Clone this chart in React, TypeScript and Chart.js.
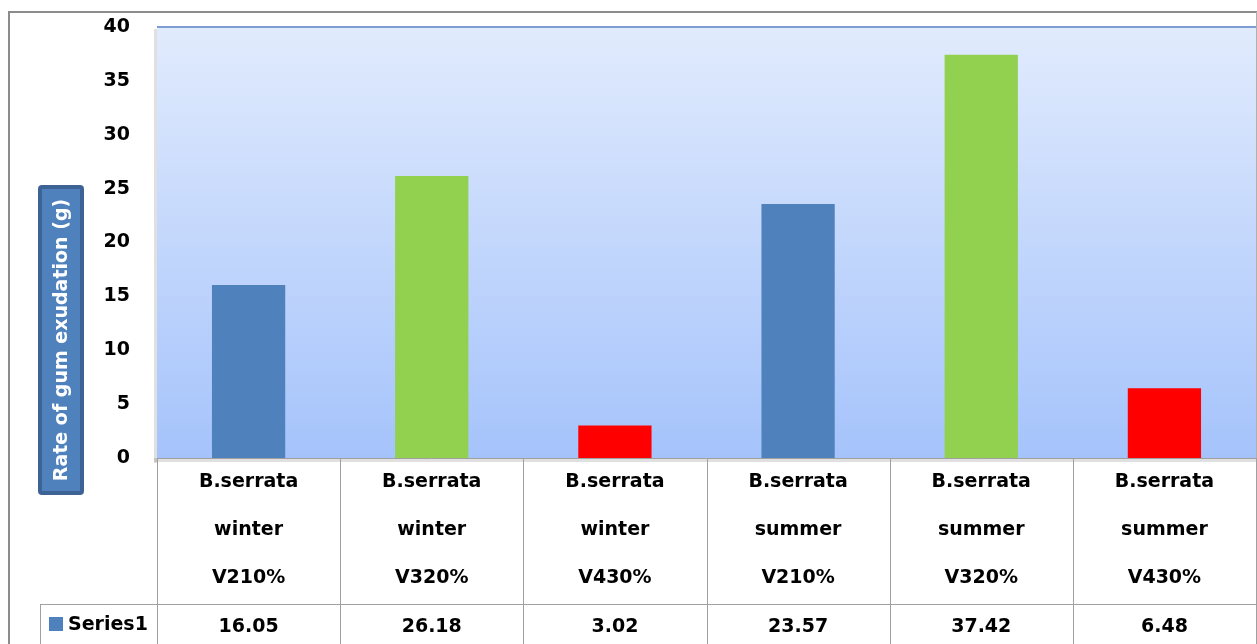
import React, { useEffect, useRef } from "react";
import { Chart, registerables } from "chart.js";

Chart.register(...registerables);

const categories: string[][] = [
  ["B.serrata", "winter", "V210%"],
  ["B.serrata", "winter", "V320%"],
  ["B.serrata", "winter", "V430%"],
  ["B.serrata", "summer", "V210%"],
  ["B.serrata", "summer", "V320%"],
  ["B.serrata", "summer", "V430%"],
];
const seriesName = "Series1";
const values: number[] = [16.05, 26.18, 3.02, 23.57, 37.42, 6.48];
const valueLabels: string[] = ["16.05", "26.18", "3.02", "23.57", "37.42", "6.48"];
const barColors: string[] = ["#4F81BD", "#92D050", "#FF0000", "#4F81BD", "#92D050", "#FF0000"];
const yTitle = "Rate of gum exudation (g)";
const yMin = 0;
const yMax = 40;
const yStep = 5;

const FONT = "'DejaVu Sans', 'Open Sans', sans-serif";

const decorPlugin = {
  id: "decor",
  beforeDraw(chart: any) {
    const { ctx, chartArea } = chart;
    const { left, right, top, bottom } = chartArea;
    ctx.save();
    ctx.fillStyle = "#FFFFFF";
    ctx.fillRect(0, 0, chart.width, chart.height);
    // outer frame
    ctx.strokeStyle = "#8C8C8C";
    ctx.lineWidth = 2;
    ctx.beginPath();
    ctx.moveTo(9, chart.height + 2);
    ctx.lineTo(9, 12);
    ctx.lineTo(right + 1, 12);
    ctx.stroke();
    ctx.strokeStyle = "#B0B0B0";
    ctx.lineWidth = 1;
    ctx.beginPath();
    ctx.moveTo(right + 0.5, 12);
    ctx.lineTo(right + 0.5, chart.height);
    ctx.stroke();
    // plot area shadow
    ctx.fillStyle = "rgba(0,0,0,0.12)";
    ctx.fillRect(left - 3, top + 2, 3, bottom - top + 3);
    ctx.fillRect(left - 3, bottom, right - left + 3, 4);
    // plot gradient
    const g = ctx.createLinearGradient(0, top, 0, bottom);
    g.addColorStop(0, "#E1EBFD");
    g.addColorStop(1, "#A5C3FB");
    ctx.fillStyle = g;
    ctx.fillRect(left, top, right - left, bottom - top);
    ctx.strokeStyle = "#7E9ED2";
    ctx.lineWidth = 2;
    ctx.beginPath();
    ctx.moveTo(left, top);
    ctx.lineTo(right, top);
    ctx.stroke();
    ctx.restore();
  },
  afterDraw(chart: any) {
    const { ctx, chartArea } = chart;
    const { left, right, bottom } = chartArea;
    const xs = chart.scales.x;
    const n = categories.length;
    const step = (right - left) / n;
    const labelBottom = 604;
    const tableBottom = chart.height;
    ctx.save();
    ctx.strokeStyle = "#A0A0A0";
    ctx.lineWidth = 1;
    ctx.beginPath();
    ctx.moveTo(left, bottom + 0.5);
    ctx.lineTo(right, bottom + 0.5);
    ctx.stroke();
    for (let i = 0; i <= n; i++) {
      const x = Math.round(xs.getPixelForValue(i) - step / 2) + 0.5;
      ctx.beginPath();
      ctx.moveTo(x, bottom);
      ctx.lineTo(x, tableBottom);
      ctx.stroke();
    }
    ctx.beginPath();
    ctx.moveTo(40, labelBottom + 0.5);
    ctx.lineTo(right, labelBottom + 0.5);
    ctx.stroke();
    ctx.beginPath();
    ctx.moveTo(40.5, labelBottom);
    ctx.lineTo(40.5, tableBottom);
    ctx.stroke();
    // legend key + values
    ctx.fillStyle = "#4F81BD";
    ctx.fillRect(49, 617, 14, 14);
    ctx.fillStyle = "#000000";
    ctx.font = `bold 19px ${FONT}`;
    ctx.textBaseline = "middle";
    ctx.textAlign = "left";
    ctx.fillText(seriesName, 68, 625);
    ctx.textAlign = "center";
    for (let i = 0; i < n; i++) {
      ctx.fillText(valueLabels[i], xs.getPixelForValue(i), 627);
    }
    // y title box
    const bx = 38, by = 185, bw = 46, bh = 310;
    ctx.fillStyle = "#3C6296";
    roundRect(ctx, bx, by, bw, bh, 4);
    ctx.fill();
    ctx.fillStyle = "#4F81BD";
    ctx.fillRect(bx + 4, by + 4, bw - 8, bh - 8);
    ctx.translate(bx + bw / 2, by + bh / 2);
    ctx.rotate(-Math.PI / 2);
    ctx.fillStyle = "#FFFFFF";
    ctx.font = `bold 19px ${FONT}`;
    ctx.textAlign = "center";
    ctx.textBaseline = "middle";
    ctx.fillText(yTitle, 0, 1);
    ctx.restore();
  },
};

function roundRect(ctx: CanvasRenderingContext2D, x: number, y: number, w: number, h: number, r: number) {
  ctx.beginPath();
  ctx.moveTo(x + r, y);
  ctx.lineTo(x + w - r, y);
  ctx.quadraticCurveTo(x + w, y, x + w, y + r);
  ctx.lineTo(x + w, y + h - r);
  ctx.quadraticCurveTo(x + w, y + h, x + w - r, y + h);
  ctx.lineTo(x + r, y + h);
  ctx.quadraticCurveTo(x, y + h, x, y + h - r);
  ctx.lineTo(x, y + r);
  ctx.quadraticCurveTo(x, y, x + r, y);
  ctx.closePath();
}

export default function App() {
  const ref = useRef<HTMLCanvasElement | null>(null);
  useEffect(() => {
    if (!ref.current) return;
    const chart = new Chart(ref.current, {
      type: "bar",
      data: {
        labels: categories,
        datasets: [
          {
            label: seriesName,
            data: values,
            backgroundColor: barColors,
            borderWidth: 0,
            categoryPercentage: 1,
            barPercentage: 0.4,
          },
        ],
      },
      options: {
        animation: false,
        responsive: false,
        devicePixelRatio: 1,
        layout: { padding: { top: 27, right: 1, bottom: 40, left: 0 } },
        plugins: {
          legend: { display: false },
          tooltip: { enabled: false },
          title: { display: false },
        },
        scales: {
          x: {
            grid: { display: false, drawTicks: false },
            border: { display: false },
            ticks: {
              color: "#000000",
              font: { family: FONT, size: 19, weight: "bold", lineHeight: 2.53 },
              padding: 0,
              maxRotation: 0,
              autoSkip: false,
            },
            afterFit: (scale: any) => {
              scale.height = 146;
            },
          },
          y: {
            min: yMin,
            max: yMax,
            grid: { display: false, drawTicks: false },
            border: { display: false },
            ticks: {
              stepSize: yStep,
              color: "#000000",
              font: { family: FONT, size: 19, weight: "bold" },
              padding: 27,
            },
            afterFit: (scale: any) => {
              scale.width = 157;
              scale.paddingTop = 0;
              scale.paddingBottom = 0;
            },
          },
        },
      },
      plugins: [decorPlugin],
    });
    return () => chart.destroy();
  }, []);
  return (
    <div style={{ position: "fixed", left: 0, top: 0, width: 1257, height: 644, background: "#fff" }}>
      <canvas ref={ref} width={1257} height={644} style={{ display: "block" }} />
    </div>
  );
}
